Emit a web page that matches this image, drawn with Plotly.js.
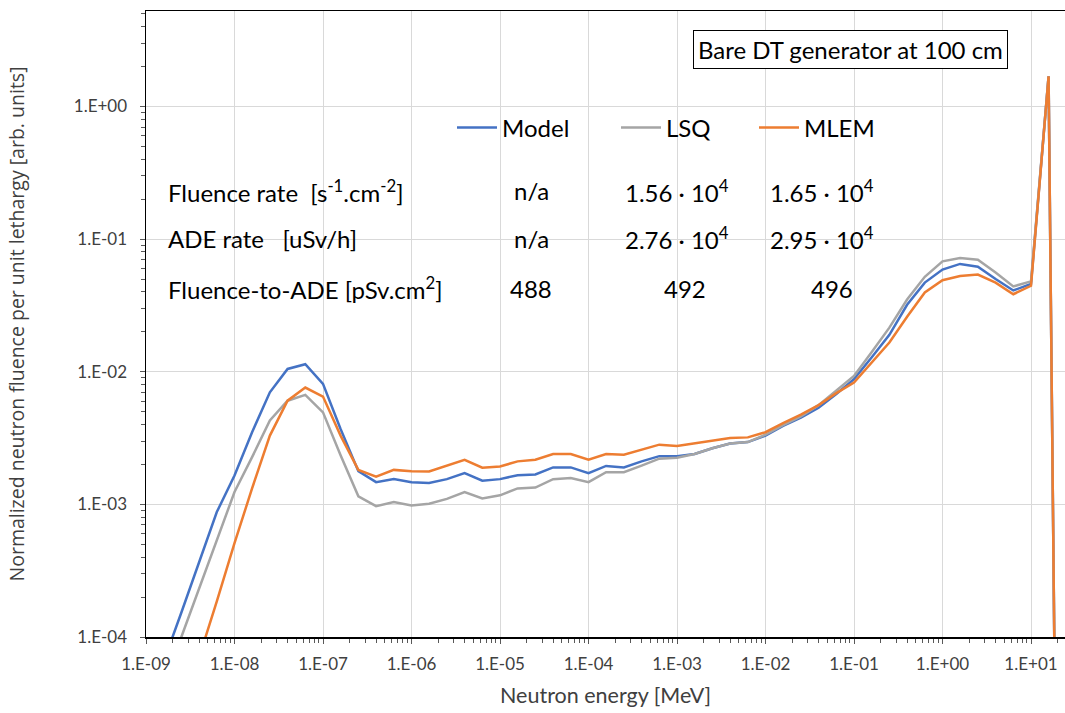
<!DOCTYPE html>
<html><head><meta charset="utf-8">
<script src="https://cdn.plot.ly/plotly-3.0.1.min.js"></script>
<style>html,body{margin:0;padding:0;background:#fff}#chart{width:1065px;height:713px}</style>
</head><body><div id="chart"></div>
<script>
// Neutron energy group points [MeV]
const energy = [1.00e-9,1.58e-9,2.51e-9,3.98e-9,6.31e-9,
  1.00e-8,1.58e-8,2.51e-8,3.98e-8,6.31e-8,
  1.00e-7,1.58e-7,2.51e-7,3.98e-7,6.31e-7,
  1.00e-6,1.58e-6,2.51e-6,3.98e-6,6.31e-6,
  1.00e-5,1.58e-5,2.51e-5,3.98e-5,6.31e-5,
  1.00e-4,1.58e-4,2.51e-4,3.98e-4,6.31e-4,
  1.00e-3,1.58e-3,2.51e-3,3.98e-3,6.31e-3,
  1.00e-2,1.58e-2,2.51e-2,3.98e-2,6.31e-2,
  0.100,0.158,0.251,0.398,0.631,
  1.00,1.58,2.51,3.98,6.31,
  10.0,15.8,25.1];

const model = [2.0e-5,6.5e-5,1.53e-4,3.65e-4,8.75e-4,
  1.65e-3,3.5e-3,7.0e-3,1.05e-2,1.14e-2,
  8.1e-3,3.7e-3,1.78e-3,1.47e-3,1.55e-3,
  1.47e-3,1.45e-3,1.55e-3,1.72e-3,1.51e-3,
  1.55e-3,1.66e-3,1.68e-3,1.90e-3,1.90e-3,
  1.72e-3,1.95e-3,1.90e-3,2.11e-3,2.31e-3,
  2.31e-3,2.40e-3,2.65e-3,2.88e-3,2.95e-3,
  3.3e-3,3.9e-3,4.5e-3,5.35e-3,6.8e-3,
  8.8e-3,1.28e-2,1.9e-2,3.2e-2,4.7e-2,
  5.9e-2,6.5e-2,6.2e-2,5.0e-2,4.1e-2,
  4.6e-2,1.69,1e-13];

const lsq = [1.2e-5,3.8e-5,1.0e-4,2.3e-4,5.35e-4,
  1.24e-3,2.27e-3,4.3e-3,6.05e-3,6.7e-3,
  4.94e-3,2.35e-3,1.15e-3,9.7e-4,1.04e-3,
  9.8e-4,1.01e-3,1.10e-3,1.24e-3,1.11e-3,
  1.17e-3,1.32e-3,1.34e-3,1.55e-3,1.58e-3,
  1.47e-3,1.75e-3,1.75e-3,1.96e-3,2.21e-3,
  2.25e-3,2.40e-3,2.65e-3,2.88e-3,2.95e-3,
  3.35e-3,3.95e-3,4.6e-3,5.6e-3,7.2e-3,
  9.3e-3,1.4e-2,2.15e-2,3.5e-2,5.2e-2,
  6.8e-2,7.2e-2,7.0e-2,5.6e-2,4.4e-2,
  4.8e-2,1.69,1e-13];

const mlem = [3.0e-6,1.0e-5,2.8e-5,7.0e-5,1.86e-4,
  5.1e-4,1.32e-3,3.3e-3,6.05e-3,7.6e-3,
  6.5e-3,3.3e-3,1.82e-3,1.62e-3,1.82e-3,
  1.78e-3,1.77e-3,1.96e-3,2.17e-3,1.89e-3,
  1.93e-3,2.11e-3,2.17e-3,2.40e-3,2.40e-3,
  2.17e-3,2.40e-3,2.37e-3,2.58e-3,2.82e-3,
  2.75e-3,2.88e-3,3.02e-3,3.16e-3,3.20e-3,
  3.5e-3,4.1e-3,4.75e-3,5.6e-3,6.9e-3,
  8.3e-3,1.17e-2,1.66e-2,2.6e-2,3.96e-2,
  4.9e-2,5.27e-2,5.4e-2,4.7e-2,3.84e-2,
  4.45e-2,1.69,1e-13];

const seriesNames = ['Model','LSQ','MLEM'];

const xTickVals = [1e-9,1e-8,1e-7,1e-6,1e-5,1e-4,1e-3,1e-2,1e-1,1,10];
const xTickText = ['1.E-09','1.E-08','1.E-07','1.E-06','1.E-05','1.E-04','1.E-03','1.E-02','1.E-01','1.E+00','1.E+01'];
const yTickVals = [1e-4,1e-3,1e-2,1e-1,1];
const yTickText = ['1.E-04','1.E-03','1.E-02','1.E-01','1.E+00'];

const tableRows = ['Fluence rate  [s<sup>-1</sup>.cm<sup>-2</sup>]','ADE rate   [uSv/h]','Fluence-to-ADE [pSv.cm<sup>2</sup>]'];
const modelCol = ['n/a','n/a','488'];
const lsqCol = ['1.56 · 10<sup>4</sup>','2.76 · 10<sup>4</sup>','492'];
const mlemCol = ['1.65 · 10<sup>4</sup>','2.95 · 10<sup>4</sup>','496'];
const boxTitle = 'Bare DT generator at 100 cm';

// ---- layout helpers ----
function minorVals(lo, hi){ const v=[]; for(let d=lo; d<=hi; d++){ for(let m=2;m<=9;m++) v.push(m*Math.pow(10,d)); } return v; }
const L=146, R=1065, T=11, B=637;
const px = x => (x-L)/(R-L);
const py = y => (B-y)/(B-T);

const colors = ['#4472C4','#A5A5A5','#ED7D31'];
const data = [model, lsq, mlem];
const legendIds = ['legend','legend2','legend3'];
const traces = data.map((d,i)=>({
  x: energy, y: d, name: seriesNames[i], type:'scatter', mode:'lines',
  line:{color:colors[i], width:2.5}, legend: legendIds[i], showlegend:true
}));

const textFont = {family:'Lato, "Open Sans", sans-serif', size:24, color:'#000'};
const annotations = [];
const rowY = [191, 238, 288];
const colX = [[531,531,531],[677,677,685],[822,822,832]];
for(let r=0;r<3;r++){
  annotations.push({xref:'paper',yref:'paper',x:px(166),y:py(rowY[r]),xanchor:'left',yanchor:'middle',text:tableRows[r],showarrow:false,font:textFont});
  [modelCol,lsqCol,mlemCol].forEach((col,c)=>{
    annotations.push({xref:'paper',yref:'paper',x:px(colX[c][r]),y:py(rowY[r]),xanchor:'center',yanchor:'middle',text:col[r],showarrow:false,font:textFont});
  });
}
annotations.push({xref:'paper',yref:'paper',x:px(850),y:py(49),xanchor:'center',yanchor:'middle',
  text:boxTitle,showarrow:false,font:textFont,bordercolor:'#000',borderwidth:1,borderpad:4,bgcolor:'#fff'});

const legendFont = {family:'Lato, "Open Sans", sans-serif', size:24, color:'#000'};
const legendStarts = [452, 616, 754];
const legendCommon = {orientation:'h', yanchor:'middle', xanchor:'left', bgcolor:'rgba(0,0,0,0)', font:legendFont, itemwidth:40, borderwidth:0};

const layout = {
  width:1065, height:713,
  margin:{l:L, r:1065-R, t:T, b:713-B, pad:0},
  paper_bgcolor:'#fff', plot_bgcolor:'#fff',
  showlegend:true,
  legend: Object.assign({x:px(legendStarts[0]), y:py(128)}, legendCommon),
  legend2: Object.assign({x:px(legendStarts[1]), y:py(128)}, legendCommon),
  legend3: Object.assign({x:px(legendStarts[2]), y:py(128)}, legendCommon),
  xaxis:{
    type:'log', range:[-9, Math.log10(10)+ (R-1031)/88.5], autorange:false,
    tickmode:'array', tickvals:xTickVals, ticktext:xTickText,
    ticks:'outside', ticklen:5, tickcolor:'#595959', tickwidth:1,
    minor:{tickmode:'array', tickvals:minorVals(-9,1), ticks:'outside', ticklen:4, tickcolor:'#595959', showgrid:false},
    showgrid:true, gridcolor:'#D9D9D9', gridwidth:1,
    showline:true, linecolor:'#000', linewidth:1.5, mirror:true,
    tickfont:{family:'Lato, sans-serif', size:17, color:'#404040'},
    ticklabelstandoff:6,
    title:{text:'Neutron energy [MeV]', font:{family:'Lato, sans-serif', size:21.5, color:'#404040'}, standoff:15},
    zeroline:false
  },
  yaxis:{
    type:'log', range:[-4, 0.72], autorange:false,
    tickmode:'array', tickvals:yTickVals, ticktext:yTickText,
    ticks:'outside', ticklen:5, tickcolor:'#595959', tickwidth:1,
    minor:{tickmode:'array', tickvals:minorVals(-4,0), ticks:'outside', ticklen:4, tickcolor:'#595959', showgrid:false},
    showgrid:true, gridcolor:'#D9D9D9', gridwidth:1,
    showline:true, linecolor:'#000', linewidth:1.5,
    tickfont:{family:'Lato, sans-serif', size:17, color:'#404040'},
    ticklabelstandoff:9,
    title:{text:'Normalized neutron fluence per unit lethargy [arb. units]', font:{family:'"Open Sans", sans-serif', size:19.5, color:'#404040'}, standoff:44},
    zeroline:false
  },
  annotations: annotations
};

Plotly.newPlot('chart', traces, layout, {displayModeBar:false, staticPlot:true});
</script>
</body></html>
